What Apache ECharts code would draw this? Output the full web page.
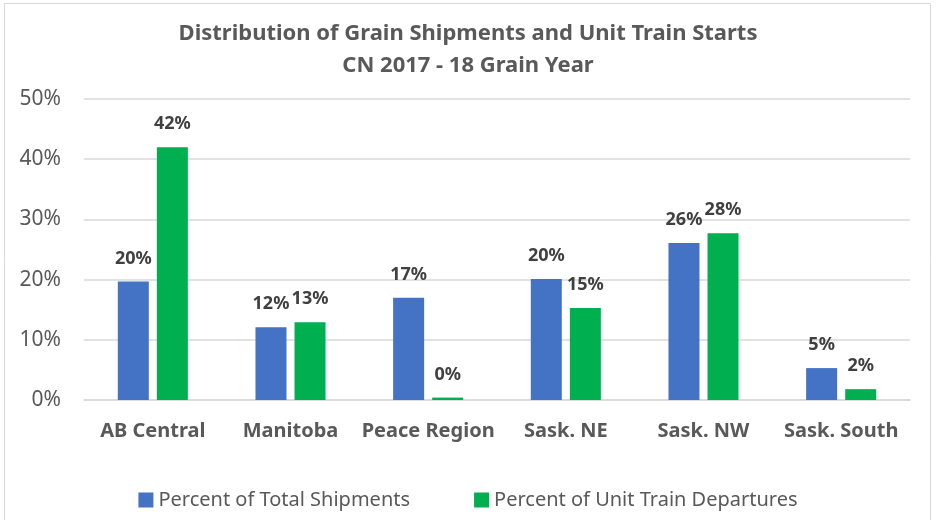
<!DOCTYPE html>
<html>
<head>
<meta charset="utf-8">
<script src="https://cdn.jsdelivr.net/npm/echarts@6/dist/echarts.min.js"></script>
<style>
  html, body { margin: 0; padding: 0; background: #fff; }
  #main { width: 936px; height: 520px; }
</style>
</head>
<body>
<div id="main"></div>
<script>
// regions and percentages
var regions = ['AB Central', 'Manitoba', 'Peace Region', 'Sask. NE', 'Sask. NW', 'Sask. South'];
var totalShipments = [19.7, 12.1, 17.0, 20.1, 26.1, 5.3];
var unitTrainDepartures = [42.0, 12.9, 0.4, 15.3, 27.7, 1.8];
var seriesNames = ['Percent of Total Shipments', 'Percent of Unit Train Departures'];

var font = "'Noto Sans', sans-serif";

var chart = echarts.init(document.getElementById('main'), null, { renderer: 'canvas' });

var labelOpt = {
  show: true,
  position: 'top',
  distance: 14,
  fontFamily: font,
  fontSize: 18,
  fontWeight: 'bold',
  color: '#404040',
  formatter: function (p) { return Math.round(p.value) + '%'; }
};

var option = {
  backgroundColor: '#fff',
  animation: false,
  textStyle: { fontFamily: font },
  graphic: [{
    type: 'rect',
    shape: { x: 4.5, y: 3.5, width: 926, height: 530 },
    style: { fill: 'none', stroke: '#d9d9d9', lineWidth: 1 },
    silent: true
  }],
  title: {
    text: 'Distribution of Grain Shipments and Unit Train Starts\nCN 2017 - 18 Grain Year',
    left: 'center',
    top: 13,
    textStyle: {
      fontFamily: font,
      fontSize: 22,
      fontWeight: 'bold',
      color: '#595959',
      lineHeight: 32
    }
  },
  legend: {
    bottom: 5,
    left: 'center',
    itemWidth: 15,
    itemHeight: 15,
    itemGap: 64,
    icon: 'rect',
    textStyle: { fontFamily: font, fontSize: 20, color: '#595959' },
    data: seriesNames
  },
  grid: {
    left: 84,
    right: 26,
    top: 99,
    bottom: 120
  },
  xAxis: {
    type: 'category',
    data: regions,
    axisLine: { show: true, lineStyle: { color: '#d9d9d9', width: 1.5 } },
    axisTick: { show: false },
    axisLabel: {
      interval: 0,
      fontFamily: font,
      fontSize: 20,
      fontWeight: 'bold',
      color: '#595959',
      margin: 21
    }
  },
  yAxis: {
    type: 'value',
    min: 0,
    max: 50,
    interval: 10,
    axisLine: { show: false },
    axisTick: { show: false },
    axisLabel: {
      fontFamily: font,
      fontSize: 21,
      color: '#595959',
      margin: 23,
      formatter: '{value}%'
    },
    splitLine: { lineStyle: { color: '#d9d9d9', width: 1.5 } }
  },
  series: [{
    name: seriesNames[0],
    type: 'bar',
    data: totalShipments,
    itemStyle: { color: '#4472C4' },
    barWidth: 31,
    barGap: '26%',
    label: labelOpt
  }, {
    name: seriesNames[1],
    type: 'bar',
    data: unitTrainDepartures,
    itemStyle: { color: '#00B050' },
    barWidth: 31,
    label: labelOpt
  }]
};

chart.setOption(option);
</script>
</body>
</html>
